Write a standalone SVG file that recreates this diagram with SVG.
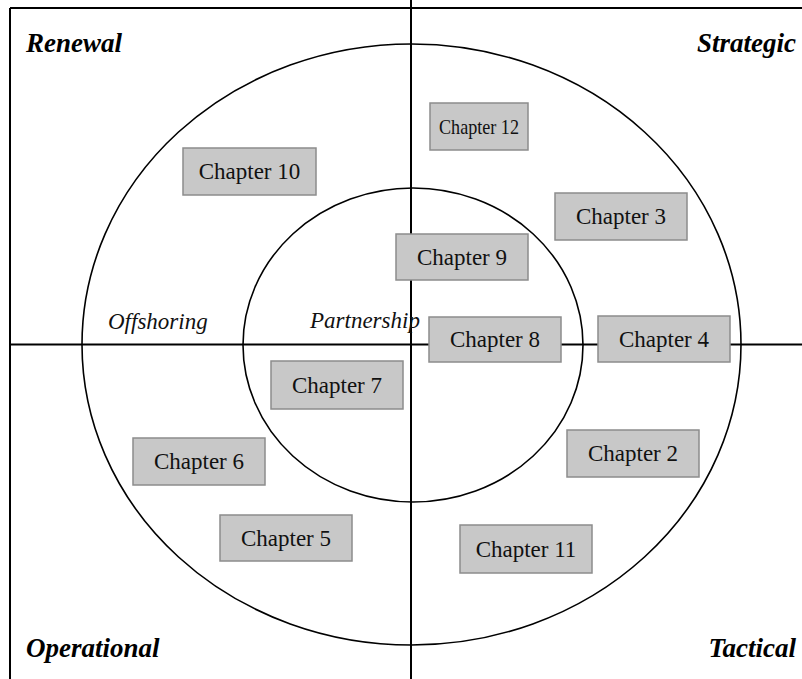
<svg xmlns="http://www.w3.org/2000/svg" width="802" height="679" viewBox="0 0 802 679">
<style>
.ax{stroke:#000;stroke-width:2;fill:none}
.ring{stroke:#000;stroke-width:1.6;fill:none}
.box{fill:#c8c8c8;stroke:#8c8c8c;stroke-width:1.5}
.lbl{font-family:"Liberation Serif",serif;font-size:23px;fill:#111;text-anchor:middle}
.corner{font-family:"Liberation Serif",serif;font-size:27px;font-weight:bold;font-style:italic;fill:#000}
.zone{font-family:"Liberation Serif",serif;font-size:23px;font-style:italic;fill:#111}
</style>
<rect width="802" height="679" fill="#fff"/>
<g id="connectors">
<line class="ax" x1="10" y1="8" x2="802" y2="8"/>
<line class="ax" x1="10" y1="8" x2="10" y2="679"/>
<line class="ax" x1="10" y1="344.5" x2="802" y2="344.5"/>
<line class="ax" x1="411" y1="0" x2="411" y2="679"/>
<ellipse class="ring" cx="411.5" cy="344.5" rx="329.5" ry="300.5"/>
<ellipse class="ring" cx="413" cy="345" rx="170" ry="157"/>
</g>
<g id="labels">
<text class="corner" x="26" y="52">Renewal</text>
<text class="corner" x="796" y="52" text-anchor="end">Strategic</text>
<text class="corner" x="26" y="657">Operational</text>
<text class="corner" x="796" y="657" text-anchor="end">Tactical</text>
<text class="zone" x="108" y="329">Offshoring</text>
<text class="zone" x="310" y="328">Partnership</text>
</g>
<g id="ch12"><rect class="box" x="430" y="103" width="98" height="47"/><text class="lbl" x="479" y="134" style="font-size:22px" textLength="80" lengthAdjust="spacingAndGlyphs">Chapter 12</text></g>
<g id="ch10"><rect class="box" x="183" y="148" width="133" height="47"/><text class="lbl" x="249.5" y="179">Chapter 10</text></g>
<g id="ch3"><rect class="box" x="555" y="193" width="132" height="47"/><text class="lbl" x="621" y="224">Chapter 3</text></g>
<g id="ch9"><rect class="box" x="396" y="234" width="132" height="46"/><text class="lbl" x="462" y="265">Chapter 9</text></g>
<g id="ch8"><rect class="box" x="429" y="317" width="132" height="45"/><text class="lbl" x="495" y="347">Chapter 8</text></g>
<g id="ch4"><rect class="box" x="598" y="316" width="132" height="46"/><text class="lbl" x="664" y="347">Chapter 4</text></g>
<g id="ch7"><rect class="box" x="271" y="361" width="132" height="48"/><text class="lbl" x="337" y="393">Chapter 7</text></g>
<g id="ch2"><rect class="box" x="567" y="430" width="132" height="47"/><text class="lbl" x="633" y="461">Chapter 2</text></g>
<g id="ch6"><rect class="box" x="133" y="438" width="132" height="47"/><text class="lbl" x="199" y="469">Chapter 6</text></g>
<g id="ch5"><rect class="box" x="220" y="515" width="132" height="46"/><text class="lbl" x="286" y="546">Chapter 5</text></g>
<g id="ch11"><rect class="box" x="460" y="525" width="132" height="48"/><text class="lbl" x="526" y="557">Chapter 11</text></g>
</svg>
